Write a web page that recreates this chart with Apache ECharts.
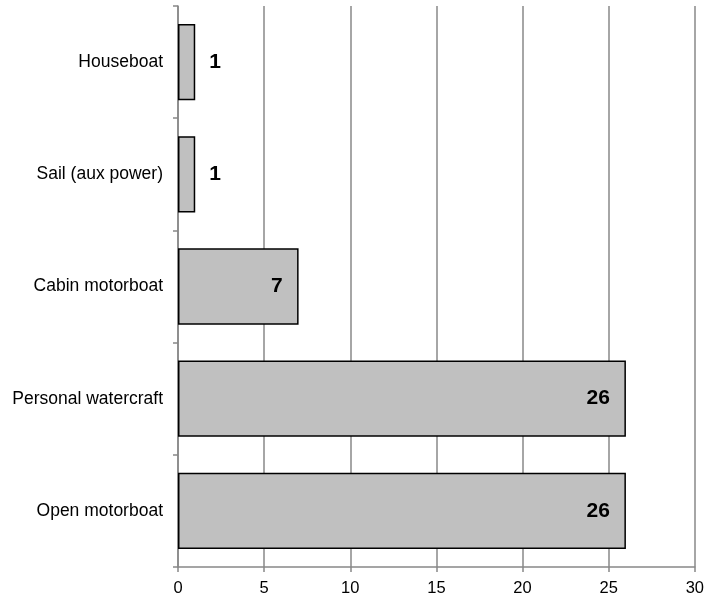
<!DOCTYPE html>
<html>
<head>
<meta charset="utf-8">
<script src="https://cdn.jsdelivr.net/npm/echarts@6/dist/echarts.min.js"></script>
<style>html,body{margin:0;padding:0;background:#fff}#c{width:707px;height:601px}</style>
</head>
<body>
<div id="c"></div>
<script>
const categories = ["Open motorboat", "Personal watercraft", "Cabin motorboat", "Sail (aux power)", "Houseboat"];
const values = [26, 26, 7, 1, 1];
const xTicks = [0, 5, 10, 15, 20, 25, 30];

const chart = echarts.init(document.getElementById('c'), null, {renderer: 'canvas'});
const font = 'Liberation Sans, Arial, sans-serif';
chart.setOption({
  animation: false,
  grid: {left: 178, right: 10, top: 6, bottom: 34, containLabel: false},
  xAxis: {
    type: 'value', min: xTicks[0], max: xTicks[xTicks.length - 1], interval: 5,
    axisLine: {show: true, lineStyle: {color: '#888', width: 1.5}},
    axisTick: {show: true, length: 5, lineStyle: {color: '#888', width: 1.5}},
    splitLine: {show: true, lineStyle: {color: '#888', width: 1.5}},
    axisLabel: {color: '#000', fontSize: 16.5, fontFamily: font, margin: 13}
  },
  yAxis: {
    type: 'category', data: categories,
    axisLine: {show: true, lineStyle: {color: '#888', width: 1.5}},
    axisTick: {show: true, length: 5, lineStyle: {color: '#888', width: 1.5}},
    axisLabel: {color: '#000', fontSize: 17.5, fontFamily: font, margin: 15}
  },
  series: [{
    type: 'bar',
    barCategoryGap: '32%',
    data: values.map(v => ({
      value: v,
      label: v < 3 ? {position: 'right', distance: 14} : {position: 'insideRight', distance: 16}
    })),
    itemStyle: {color: '#c0c0c0', borderColor: '#000', borderWidth: 1.5},
    label: {show: true, color: '#000', fontSize: 21, fontWeight: 'bold', fontFamily: font}
  }]
});
</script>
</body>
</html>
